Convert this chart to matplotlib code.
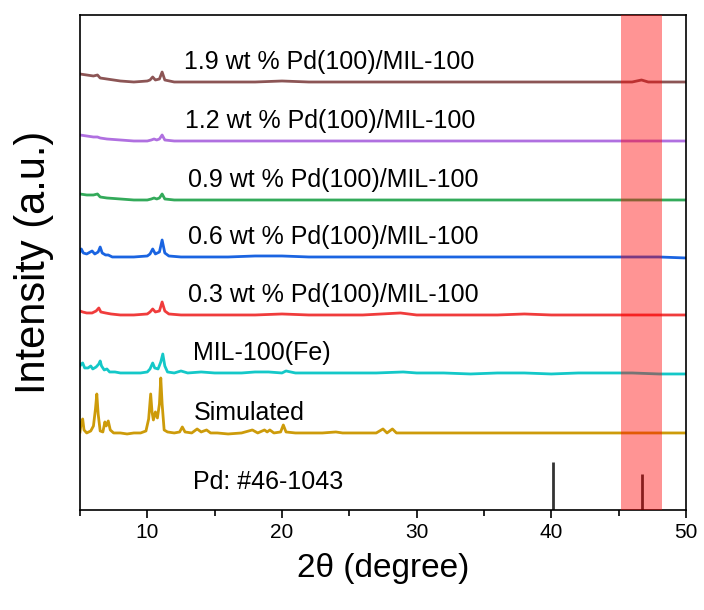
import matplotlib
matplotlib.use('Agg')
import matplotlib.pyplot as plt
from matplotlib.ticker import MultipleLocator

plt.rcParams['font.family'] = ['Liberation Sans', 'DejaVu Sans']

# (2theta, height above baseline), in pixel-ish units
simulated = [(5.0, 2), (5.1, 12), (5.2, 15), (5.3, 4), (5.5, 1), (5.8, 3), (6.0, 8),
             (6.15, 25), (6.25, 40), (6.35, 20), (6.5, 3), (6.7, 2), (6.85, 12), (6.95, 8),
             (7.1, 13), (7.25, 4), (7.5, 1), (8.0, 1), (8.5, 0), (9.0, 1), (9.5, 1),
             (9.9, 3), (10.1, 15), (10.25, 40), (10.35, 22), (10.45, 14), (10.6, 22),
             (10.75, 16), (10.9, 30), (11.0, 56), (11.1, 30), (11.25, 4), (11.5, 2),
             (12.0, 1), (12.4, 2), (12.6, 7), (12.8, 2), (13.3, 1), (13.7, 5), (14.0, 2),
             (14.4, 4), (14.7, 1), (15.2, 1), (16.0, 0), (17.0, 1), (17.8, 4), (18.2, 1),
             (18.7, 4), (18.9, 2), (19.1, 4), (19.4, 1), (19.9, 2), (20.1, 9), (20.3, 2),
             (21.0, 1), (22.0, 1), (23.0, 1), (24.0, 2), (24.5, 1), (25.0, 1), (26.0, 1),
             (27.0, 1), (27.5, 5), (27.8, 1), (28.2, 5), (28.5, 1), (29.0, 1), (30.0, 1),
             (32.0, 1), (34.0, 1), (36.0, 1), (38.0, 1), (40.0, 1), (42.0, 1), (44.0, 1),
             (46.0, 1), (48.0, 1), (50.0, 1)]

mil100 = [(5.0, 8), (5.1, 10), (5.2, 11), (5.35, 6), (5.6, 6), (5.8, 8), (5.95, 5),
          (6.2, 7), (6.4, 10), (6.5, 13), (6.6, 8), (6.8, 4), (7.0, 5), (7.2, 2),
          (7.6, 2), (8.0, 1), (8.5, 1), (9.0, 1), (9.5, 1), (10.0, 2), (10.2, 5),
          (10.4, 11), (10.55, 6), (10.8, 5), (11.0, 12), (11.15, 20), (11.3, 8),
          (11.5, 2), (12.0, 1), (12.5, 3), (13.0, 1), (14.0, 2), (15.0, 1), (16.0, 1),
          (17.0, 1), (18.0, 2), (19.0, 2), (20.0, 1), (20.3, 3), (21.0, 1), (23.0, 1),
          (25.0, 1), (27.0, 1), (29.0, 2), (30.0, 1), (32.0, 1), (34.0, 0), (36.0, 1),
          (38.0, 1), (40.0, 0), (42.0, 1), (44.0, 1), (46.0, 1), (48.0, 0), (50.0, 0)]

pd03 = [(5.0, 5), (5.2, 4), (5.5, 3), (5.9, 3), (6.2, 5), (6.4, 8), (6.55, 4),
        (6.9, 3), (7.3, 2), (8.0, 1), (9.0, 1), (10.0, 2), (10.2, 4), (10.4, 7),
        (10.6, 4), (10.9, 5), (11.1, 14), (11.3, 5), (11.6, 2), (12.5, 1), (14.0, 1),
        (16.0, 1), (18.0, 1), (20.0, 2), (22.0, 1), (24.0, 1), (26.0, 1), (28.8, 3),
        (30.0, 1), (32.0, 1), (34.0, 1), (36.0, 1), (38.0, 2), (40.0, 1), (42.0, 1),
        (44.0, 1), (46.0, 1), (48.0, 1), (50.0, 1)]

pd06 = [(5.0, 6), (5.1, 9), (5.25, 5), (5.5, 4), (5.9, 7), (6.1, 4), (6.35, 6),
        (6.5, 11), (6.65, 5), (6.9, 3), (7.1, 3), (7.4, 1), (8.0, 1), (9.0, 1),
        (10.0, 2), (10.2, 4), (10.4, 9), (10.6, 4), (10.9, 6), (11.1, 18), (11.3, 5),
        (11.6, 2), (12.5, 1), (14.0, 1), (16.0, 1), (18.0, 2), (20.0, 2), (22.0, 1),
        (24.0, 1), (26.0, 1), (28.0, 1), (30.0, 1), (32.0, 1), (34.0, 1), (36.0, 1),
        (38.0, 1), (40.0, 1), (42.0, 1), (44.0, 1), (46.0, 1), (48.0, 1), (50.0, 0)]

pd09 = [(5.0, 7), (5.5, 6), (6.0, 6), (6.3, 7), (6.5, 4), (7.0, 3), (8.0, 2),
        (9.0, 1), (10.0, 1), (10.3, 2), (10.5, 3), (10.7, 2), (10.9, 3), (11.1, 7),
        (11.3, 2), (12.0, 1), (14.0, 1), (16.0, 1), (18.0, 1), (20.0, 1), (22.0, 1),
        (24.0, 1), (26.0, 1), (28.0, 1), (30.0, 1), (32.0, 1), (34.0, 1), (36.0, 1),
        (38.0, 1), (40.0, 1), (42.0, 1), (44.0, 1), (46.0, 1), (48.0, 1), (50.0, 1)]

pd12 = [(5.0, 7), (5.5, 6), (6.0, 5), (6.3, 5), (6.5, 4), (7.0, 3), (8.0, 2),
        (9.0, 1), (10.0, 1), (10.3, 2), (10.5, 3), (10.7, 2), (10.9, 3), (11.1, 7),
        (11.3, 2), (12.0, 1), (14.0, 1), (16.0, 1), (18.0, 1), (20.0, 1), (22.0, 1),
        (24.0, 1), (26.0, 1), (28.0, 1), (30.0, 1), (32.0, 1), (34.0, 1), (36.0, 1),
        (38.0, 1), (40.0, 1), (42.0, 1), (44.0, 1), (46.0, 1), (48.0, 1), (50.0, 1)]

pd19 = [(5.0, 9), (5.5, 8), (6.0, 7), (6.3, 8), (6.5, 5), (7.0, 4), (8.0, 2),
        (9.0, 1), (10.0, 2), (10.2, 3), (10.4, 6), (10.6, 3), (10.9, 4), (11.1, 11),
        (11.3, 3), (12.0, 1), (14.0, 1), (16.0, 1), (18.0, 1), (20.0, 2), (22.0, 1),
        (24.0, 1), (26.0, 1), (28.0, 1), (30.0, 1), (32.0, 1), (34.0, 1), (36.0, 1),
        (38.0, 1), (40.0, 1), (42.0, 1), (44.0, 1), (46.0, 1), (46.7, 3), (47.2, 1),
        (48.0, 1), (50.0, 1)]

series = [simulated, mil100, pd03, pd06, pd09, pd12, pd19]
baselines = [76, 136, 194, 252, 309, 368, 427]
colors = ['#cd9b0a', '#14c8c8', '#f03c3c', '#1a64e1', '#33aa5a', '#b070e0', '#8c5555']
labels = ['Simulated', 'MIL-100(Fe)', '0.3 wt % Pd(100)/MIL-100',
          '0.6 wt % Pd(100)/MIL-100', '0.9 wt % Pd(100)/MIL-100',
          '1.2 wt % Pd(100)/MIL-100', '1.9 wt % Pd(100)/MIL-100']
label_x = [13.45, 13.4, 13.0, 13.0, 13.0, 12.8, 12.75]

pd_pos = [40.1, 46.7]
pd_height = [48, 36]

fig = plt.figure(figsize=(7.04, 6.10), dpi=100)
ax = fig.add_axes([0.1136, 0.164, 0.8608, 0.8114])

for data, base, c, lab, lx in zip(series, baselines, colors, labels, label_x):
    xs = [p[0] for p in data]
    ys = [p[1] + base for p in data]
    ax.plot(xs, ys, color=c, lw=2.0, zorder=2)
    ax.text(lx, base + 21, lab, fontsize=18, va='center', ha='left')

ax.vlines(pd_pos, 0, pd_height, color='#333333', lw=2.0, zorder=2)
ax.text(13.4, 28, 'Pd: #46-1043', fontsize=18, va='center', ha='left')

ax.axvspan(45.2, 48.2, color='red', alpha=0.42, lw=0, zorder=3)

ax.set_xlim(5, 50)
ax.set_ylim(0, 495)
ax.xaxis.set_major_locator(MultipleLocator(10))
ax.xaxis.set_minor_locator(MultipleLocator(5))
ax.set_yticks([])
ax.tick_params(axis='x', which='major', direction='out', length=6, width=1.2, labelsize=15)
ax.tick_params(axis='x', which='minor', direction='out', length=4, width=1.2)
for s in ax.spines.values():
    s.set_linewidth(1.2)

ax.set_xlabel('2θ (degree)', fontsize=24, labelpad=8)
ax.set_ylabel('Intensity (a.u.)', fontsize=30, labelpad=19)

fig.savefig('out.png', dpi=100)
